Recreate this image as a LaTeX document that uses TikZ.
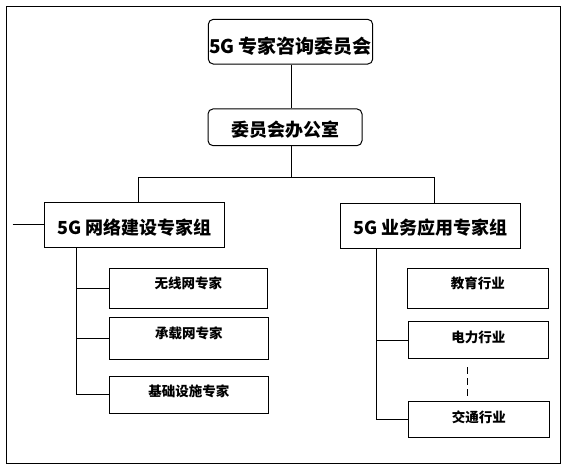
\documentclass[tikz,border=0pt]{standalone}
\usepackage{fontspec}
\setmainfont{Liberation Sans}
\newfontfamily\cjk{Noto Sans CJK SC}
\begin{document}
\begin{tikzpicture}[x=1pt,y=-1pt,line width=1pt,
  box/.style={draw,line width=1pt,inner sep=0pt,fill=white},
  rbox/.style={box,rounded corners=5pt},
  bigtxt/.style={font=\cjk\bfseries\fontsize{19}{19}\selectfont},
  midtxt/.style={font=\cjk\bfseries\fontsize{18}{18}\selectfont},
  smalltxt/.style={font=\cjk\bfseries\fontsize{13.5}{13.5}\selectfont},
  conn/.style={draw,line width=1pt},
  dotconn/.style={draw,line width=1pt,dash pattern=on 7pt off 4pt}]
\useasboundingbox (0,0) rectangle (570,469);
\draw[line width=1pt] (6,6) rectangle (560.5,463);

\node[rbox,minimum width=164.4pt,minimum height=44.7pt,
  label={[bigtxt,yshift=-5pt]center:5G 专家咨询委员会}] (top) at (290.5,41.7) {};
\node[rbox,minimum width=154pt,minimum height=36.7pt,
  label={[midtxt,yshift=-2pt]center:委员会办公室}] (office) at (285,127.3) {};
\node[box,minimum width=180pt,minimum height=45pt,
  label={[midtxt,yshift=-2.7pt]center:5G 网络建设专家组}] (g1) at (134.3,224.8) {};
\node[box,minimum width=180pt,minimum height=45pt,
  label={[midtxt,yshift=-2pt]center:5G 业务应用专家组}] (g2) at (430.7,225.8) {};

\node[box,minimum width=158pt,minimum height=39.7pt,
  label={[smalltxt,yshift=5pt]center:无线网专家}] (a1) at (188.3,288.2) {};
\node[box,minimum width=159pt,minimum height=41.7pt,
  label={[smalltxt,yshift=4.5pt]center:承载网专家}] (a2) at (188.8,338.2) {};
\node[box,minimum width=159pt,minimum height=37.3pt,
  label={[smalltxt,yshift=3pt]center:基础设施专家}] (a3) at (188.8,394.7) {};

\node[box,minimum width=141pt,minimum height=39.7pt,
  label={[smalltxt,yshift=5pt]center:教育行业}] (b1) at (477.8,288.2) {};
\node[box,minimum width=140pt,minimum height=37.3pt,
  label={[smalltxt,yshift=3pt]center:电力行业}] (b2) at (478.3,340.3) {};
\node[box,minimum width=141pt,minimum height=36pt,
  label={[smalltxt,yshift=2pt]center:交通行业}] (b3) at (478.8,419.7) {};

\coordinate (trunk) at (291.7,177.3);
\coordinate (lb) at (138.3,177.3);
\coordinate (rb) at (434.3,177.3);
\coordinate (stub) at (12.7,224.8);
\coordinate (ls) at (76,395);
\coordinate (rs) at (376.5,420);
\coordinate (d1) at (467.3,367.3);
\coordinate (d2) at (467.3,397.3);

\draw[conn] (trunk |- top.south) -- (trunk |- office.north);
\draw[conn] (trunk |- office.south) -- (trunk);
\draw[conn] (lb |- g1.north) -- (lb) -- (rb) -- (rb |- g2.north);
\draw[conn] (stub) -- (g1.west);
\draw[conn] (ls |- g1.south) -- (ls |- a3.west) -- (a3.west);
\draw[conn] (ls |- a1.west) -- (a1.west);
\draw[conn] (ls |- a2.west) -- (a2.west);
\draw[conn] (rs |- g2.south) -- (rs |- b3.west) -- (b3.west);
\draw[conn] (rs |- b2.west) -- (b2.west);
\draw[dotconn] (d1) -- (d2);
\end{tikzpicture}
\end{document}
